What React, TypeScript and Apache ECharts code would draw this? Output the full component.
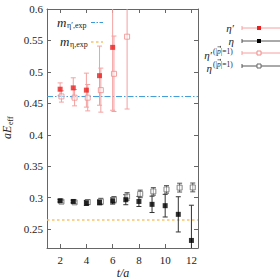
import React, { useEffect, useRef } from "react";
import * as echarts from "echarts";

// ---- data ----
const tEtaPrime = [2, 3, 4, 5, 6];
const etaPrimeVal = [0.4725, 0.4746, 0.471, 0.494, 0.539];
const etaPrimeErr = [0.010, 0.016, 0.027, 0.047, 0.1];

const tEtaPrimeP1 = [2, 3, 4, 5, 6, 7];
const etaPrimeP1Val = [0.461, 0.459, 0.459, 0.471, 0.497, 0.556];
const etaPrimeP1Err = [0.009, 0.013, 0.021, 0.035, 0.06, 0.115];

const tEta = [2, 3, 4, 5, 6, 7, 8, 9, 10, 11, 12];
const etaVal = [0.2952, 0.294, 0.2916, 0.2926, 0.2948, 0.2968, 0.294, 0.2894, 0.2873, 0.2735, 0.232];
const etaErr = [0.002, 0.002, 0.004, 0.004, 0.005, 0.008, 0.008, 0.013, 0.018, 0.028, 0.056];

const tEtaP1 = [2, 3, 4, 5, 6, 7, 8, 9, 10, 11, 12];
const etaP1Val = [0.2937, 0.2926, 0.293, 0.294, 0.2968, 0.302, 0.306, 0.310, 0.3132, 0.316, 0.3163];
const etaP1Err = [0.002, 0.002, 0.004, 0.005, 0.005, 0.006, 0.006, 0.006, 0.006, 0.007, 0.007];

const mEtaPrimeExp = 0.4608;
const mEtaExp = 0.2646;

const xRange = [1, 12.5];
const xTicks = [2, 4, 6, 8, 10, 12];
const yTicks = [0.25, 0.3, 0.35, 0.4, 0.45, 0.5, 0.55, 0.6];

const OFFSET = 0.1;
const SERIF = "'Liberation Serif', 'DejaVu Serif', serif";

const RED = "#e8201f";
const RED_LIGHT = "#f5a0a0";
const BLACK = "#000000";
const GRAY = "#555555";
const BLUE = "#3a9ad9";
const ORANGE = "#f6c36a";

function build(ts: number[], vals: number[], errs: number[], off: number) {
  return ts.map((t, i) => [t + off, vals[i], errs[i]]);
}

function errRender(color: string, width: number) {
  return (params: any, api: any) => {
    const x = api.value(0);
    const y = api.value(1);
    const e = api.value(2);
    const cs = params.coordSys;
    const top = cs.y;
    const bottom = cs.y + cs.height;
    const pLo = api.coord([x, y - e]);
    const pHi = api.coord([x, y + e]);
    const px = pLo[0];
    let yLo = pLo[1];
    let yHi = pHi[1];
    const children: any[] = [];
    const capW = 2.5;
    const style = { stroke: color, lineWidth: width };
    const loClipped = yLo > bottom;
    const hiClipped = yHi < top;
    if (loClipped) yLo = bottom;
    if (hiClipped) yHi = top;
    children.push({ type: "line", shape: { x1: px, y1: yLo, x2: px, y2: yHi }, style });
    if (!loClipped)
      children.push({ type: "line", shape: { x1: px - capW, y1: yLo, x2: px + capW, y2: yLo }, style });
    if (!hiClipped)
      children.push({ type: "line", shape: { x1: px - capW, y1: yHi, x2: px + capW, y2: yHi }, style });
    return { type: "group", children };
  };
}

function txt(x: number, y: number, text: string, size: number, opts: any = {}) {
  return {
    type: "text",
    x,
    y,
    style: {
      text,
      font: `${opts.italic ? "italic " : ""}${size}px ${opts.family || SERIF}`,
      fill: opts.fill || "#222",
      align: opts.align || "left",
      textAlign: opts.align || "left",
      verticalAlign: "middle",
      textVerticalAlign: "middle",
    },
  };
}

export default function App() {
  const ref = useRef<HTMLDivElement>(null);
  useEffect(() => {
    if (!ref.current) return;
    const chart = echarts.init(ref.current, null, { renderer: "svg" });

    const axisLineStyle = { color: "#666", width: 1 };
    const legendRows = [
      { y: 28, label: "η′", sup: false, line: RED_LIGHT, fill: RED, open: false },
      { y: 41, label: "η", sup: false, line: GRAY, fill: BLACK, open: false },
      { y: 53, label: "η′", sup: true, line: RED_LIGHT, fill: "#f08a8a", open: true },
      { y: 66, label: "η", sup: true, line: GRAY, fill: "#666", open: true },
    ];
    const legendGraphics: any[] = [];
    legendRows.forEach((r) => {
      if (r.sup) {
        const sy = r.y - 2;
        legendGraphics.push(txt(212, r.y + 1.5, r.label, 11, { align: "right", italic: true }));
        legendGraphics.push(txt(213, sy, "(|", 7.5, {}));
        legendGraphics.push(txt(217, sy, "p", 7.5, { italic: true }));
        legendGraphics.push(txt(220.8, sy, "|=1)", 7.5, {}));
        const ay = sy - 4.2;
        legendGraphics.push({
          type: "line",
          shape: { x1: 217.5, y1: ay, x2: 221, y2: ay },
          style: { stroke: "#222", lineWidth: 0.6, fill: "none" },
        });
        legendGraphics.push({
          type: "polyline",
          shape: { points: [[220, ay - 0.9], [221, ay], [220, ay + 0.9]] },
          style: { stroke: "#222", lineWidth: 0.6, fill: "none" },
        });
      } else {
        legendGraphics.push(txt(234, r.y, r.label, 11, { align: "right", italic: true }));
      }
      legendGraphics.push({
        type: "line",
        shape: { x1: 242, y1: r.y, x2: 280, y2: r.y },
        style: { stroke: r.line, lineWidth: 1 },
      });
      legendGraphics.push({ type: "line", shape: { x1: 242, y1: r.y - 2, x2: 242, y2: r.y + 2 }, style: { stroke: r.line } });
      legendGraphics.push({
        type: "rect",
        shape: { x: 259 - 2, y: r.y - 2, width: 4, height: 4 },
        style: r.open ? { fill: "#fff", stroke: r.fill, lineWidth: 1 } : { fill: r.fill },
      });
    });

    const option: any = {
      animation: false,
      backgroundColor: "#ffffff",
      grid: { left: 47, right: 82, top: 9, bottom: 32 },
      xAxis: [
        {
          type: "value",
          min: xRange[0],
          max: xRange[1],
          axisLine: { show: true, lineStyle: axisLineStyle },
          axisTick: { show: true, inside: true, length: 4, customValues: xTicks, lineStyle: axisLineStyle },
          axisLabel: { customValues: xTicks, fontFamily: SERIF, fontSize: 11, color: "#222", margin: 6 },
          splitLine: { show: false },
        },
        {
          type: "value",
          position: "top",
          min: xRange[0],
          max: xRange[1],
          axisLine: { show: true, lineStyle: axisLineStyle },
          axisTick: { show: true, inside: true, length: 4, customValues: xTicks, lineStyle: axisLineStyle },
          axisLabel: { show: false },
          splitLine: { show: false },
        },
      ],
      yAxis: [
        {
          type: "value",
          min: 0.22,
          max: 0.6,
          axisLine: { show: true, lineStyle: axisLineStyle },
          axisTick: { show: true, inside: true, length: 4, customValues: yTicks, lineStyle: axisLineStyle },
          axisLabel: {
            customValues: yTicks,
            fontFamily: SERIF,
            fontSize: 11,
            color: "#222",
            margin: 4,
            formatter: (v: number) => String(Math.round(v * 100) / 100),
          },
          splitLine: { show: false },
        },
        {
          type: "value",
          position: "right",
          min: 0.22,
          max: 0.6,
          axisLine: { show: true, lineStyle: axisLineStyle },
          axisTick: { show: true, inside: true, length: 4, customValues: yTicks, lineStyle: axisLineStyle },
          axisLabel: { show: false },
          splitLine: { show: false },
        },
      ],
      series: [
        {
          type: "line",
          data: xRange.map((x) => [x, mEtaPrimeExp]),
          symbol: "none",
          silent: true,
          lineStyle: { color: BLUE, type: [6, 2, 1.5, 2], width: 1 },
          itemStyle: { color: BLUE },
          z: 1,
        },
        {
          type: "line",
          data: xRange.map((x) => [x, mEtaExp]),
          symbol: "none",
          silent: true,
          lineStyle: { color: ORANGE, type: [2.5, 2.5], width: 1.5 },
          itemStyle: { color: ORANGE },
          z: 1,
        },
        {
          type: "custom",
          renderItem: errRender(RED_LIGHT, 1),
          data: build(tEtaPrimeP1, etaPrimeP1Val, etaPrimeP1Err, OFFSET),
          encode: { x: 0, y: 1 },
          z: 2,
        },
        {
          type: "custom",
          renderItem: errRender(RED_LIGHT, 1),
          data: build(tEtaPrime, etaPrimeVal, etaPrimeErr, 0),
          encode: { x: 0, y: 1 },
          z: 2,
        },
        {
          type: "custom",
          renderItem: errRender(GRAY, 1),
          data: build(tEtaP1, etaP1Val, etaP1Err, OFFSET),
          encode: { x: 0, y: 1 },
          z: 2,
        },
        {
          type: "custom",
          renderItem: errRender("#333", 1),
          data: build(tEta, etaVal, etaErr, 0),
          encode: { x: 0, y: 1 },
          z: 2,
        },
        {
          type: "scatter",
          symbol: "rect",
          symbolSize: 5,
          data: build(tEtaPrimeP1, etaPrimeP1Val, etaPrimeP1Err, OFFSET),
          itemStyle: { color: "rgba(255,255,255,0.6)", borderColor: "#f08a8a", borderWidth: 1 },
          z: 3,
        },
        {
          type: "scatter",
          symbol: "rect",
          symbolSize: 5,
          data: build(tEtaP1, etaP1Val, etaP1Err, OFFSET),
          itemStyle: { color: "rgba(255,255,255,0.6)", borderColor: "#666", borderWidth: 1 },
          z: 3,
        },
        {
          type: "scatter",
          symbol: "rect",
          symbolSize: 5,
          data: build(tEtaPrime, etaPrimeVal, etaPrimeErr, 0),
          itemStyle: { color: RED },
          z: 4,
        },
        {
          type: "scatter",
          symbol: "rect",
          symbolSize: 5,
          data: build(tEta, etaVal, etaErr, 0),
          itemStyle: { color: BLACK },
          z: 4,
        },
      ],
      graphic: [
        // in-plot reference line labels
        txt(57, 22, "m", 13, { italic: true }),
        txt(67, 25, "η′,exp", 8, {}),
        { type: "line", shape: { x1: 91, y1: 22.5, x2: 103, y2: 22.5 }, style: { stroke: BLUE, lineWidth: 1, lineDash: [4, 1.5, 1.5, 1.5] } },
        txt(60, 41, "m", 13, { italic: true }),
        txt(70, 44, "η,exp", 8, {}),
        { type: "line", shape: { x1: 91, y1: 42, x2: 103, y2: 42 }, style: { stroke: ORANGE, lineWidth: 1.5, lineDash: [2.5, 2.5] } },
        // axis titles
        {
          type: "group",
          x: 7,
          y: 132,
          rotation: Math.PI / 2,
          children: [
            txt(-7, 0, "aE", 12, { italic: true }),
            txt(7, 3.5, "eff", 8, {}),
          ],
        },
        txt(123, 273, "t/a", 12, { italic: true, align: "center" }),
        ...legendGraphics,
      ],
    };
    chart.setOption(option);
    return () => chart.dispose();
  }, []);
  return (
    <div
      ref={ref}
      style={{ position: "fixed", left: 0, top: 0, width: 280, height: 280, background: "#fff" }}
    />
  );
}
